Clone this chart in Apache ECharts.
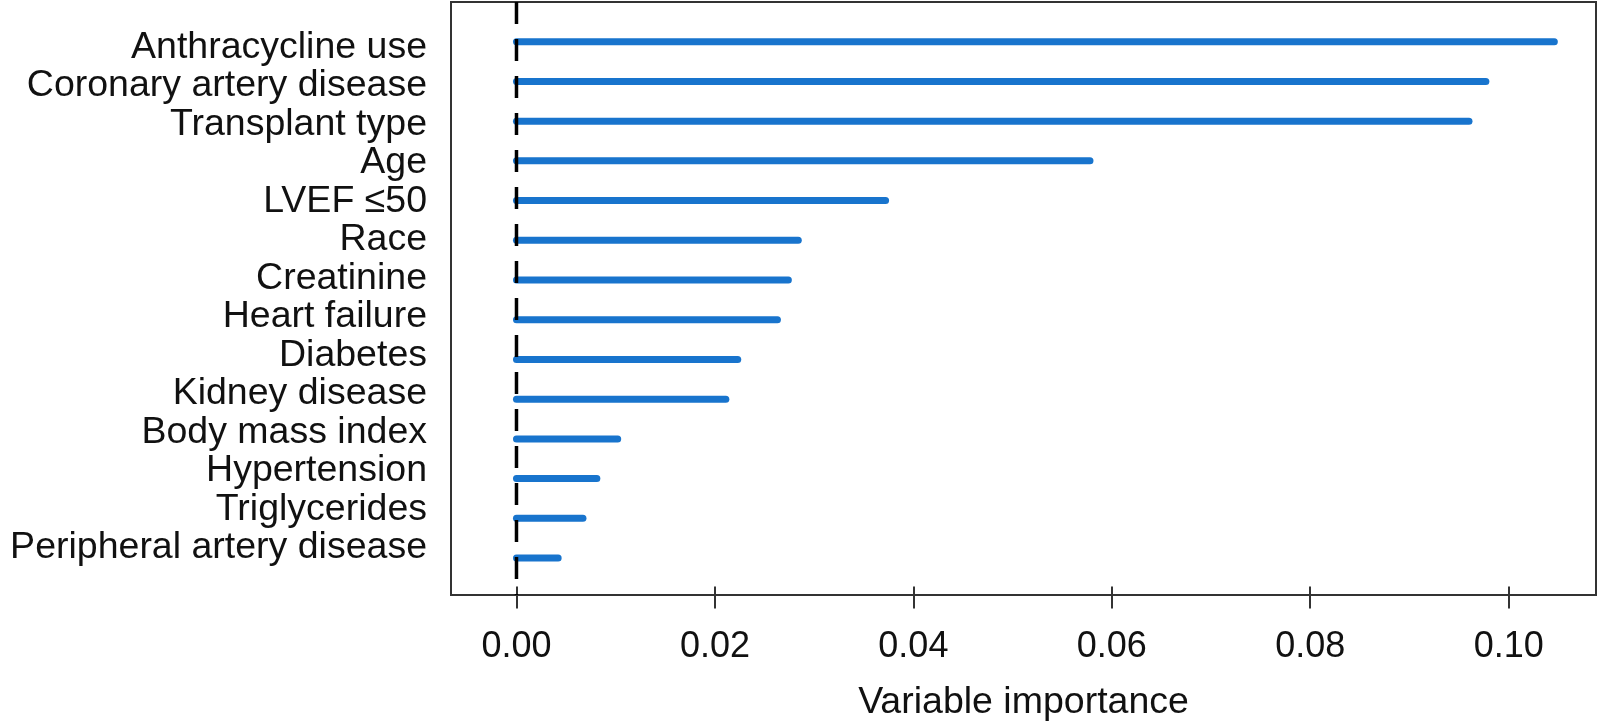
<!DOCTYPE html>
<html><head><meta charset="utf-8">
<script src="https://cdn.jsdelivr.net/npm/echarts@6/dist/echarts.min.js"></script>
<style>html,body{margin:0;padding:0;background:#fff}#c{width:1600px;height:724px}</style>
</head><body><div id="c"></div>
<script>
const categories = [
  'Anthracycline use', 'Coronary artery disease', 'Transplant type', 'Age',
  'LVEF \u226450', 'Race', 'Creatinine', 'Heart failure', 'Diabetes',
  'Kidney disease', 'Body mass index', 'Hypertension', 'Triglycerides',
  'Peripheral artery disease'
];
const importance = [0.1046, 0.0977, 0.0960, 0.0578, 0.0372, 0.0284, 0.0274, 0.0263, 0.0223, 0.0211, 0.0102, 0.0081, 0.0067, 0.0042];
const xTicks = [0, 0.02, 0.04, 0.06, 0.08, 0.10];
const xTickLabels = ['0.00', '0.02', '0.04', '0.06', '0.08', '0.10'];
const axisTitle = 'Variable importance';

const n = categories.length;
const rowPos = categories.map((c, i) => n - i);
const font = '"Liberation Sans", Arial, sans-serif';
const chart = echarts.init(document.getElementById('c'), null, {renderer: 'canvas'});
const option = {
  animation: false,
  backgroundColor: '#fff',
  grid: {left: 451, right: 4, top: 2, bottom: 129, show: true, borderColor: '#333', borderWidth: 2, containLabel: false, outerBoundsMode: 'none'},
  xAxis: {
    type: 'value', min: -0.0066, max: 0.1088,
    splitLine: {show: false}, axisLine: {show: false},
    axisTick: {show: true, customValues: xTicks, length: 22, inside: false, lineStyle: {color: '#333', width: 2}},
    axisLabel: {customValues: xTicks, formatter: v => xTickLabels[xTicks.findIndex(t => Math.abs(t - v) < 1e-9)] ?? v.toFixed(2), fontSize: 36, color: '#111', margin: 34, fontFamily: font},
    name: axisTitle, nameLocation: 'middle', nameGap: 89,
    nameTextStyle: {fontSize: 37.5, color: '#111', fontFamily: font}
  },
  yAxis: [
    {
      type: 'value', min: 0.07, max: 15, position: 'left',
      splitLine: {show: false}, axisLine: {show: false}, axisTick: {show: false},
      axisLabel: {show: false}
    },
    {
      type: 'value', min: -0.221, max: 15.182, position: 'left', offset: 0,
      splitLine: {show: false}, axisLine: {show: false}, axisTick: {show: false},
      axisLabel: {customValues: rowPos, formatter: v => categories[n - Math.round(v)] || '', fontSize: 37.5, color: '#111', margin: 24, fontFamily: font, hideOverlap: false}
    }
  ],
  series: [
    {
      type: 'custom', yAxisIndex: 0,
      renderItem: (params, api) => {
        const v = api.value(0), y = api.value(1);
        const s = api.coord([0, y]), e = api.coord([v, y]);
        return {type: 'line', shape: {x1: s[0], y1: s[1], x2: e[0], y2: e[1]}, style: {stroke: '#1874CD', lineWidth: 7, lineCap: 'round'}};
      },
      encode: {x: 0, y: 1},
      data: importance.map((v, i) => [v, rowPos[i]]),
      z: 2
    },
    {
      type: 'line', yAxisIndex: 0, data: [[0, 15], [0, 0.07]], symbol: 'none', silent: true,
      lineStyle: {color: '#000', width: 3.5, type: [22, 15]}, z: 3
    }
  ]
};
chart.setOption(option);
</script></body></html>
